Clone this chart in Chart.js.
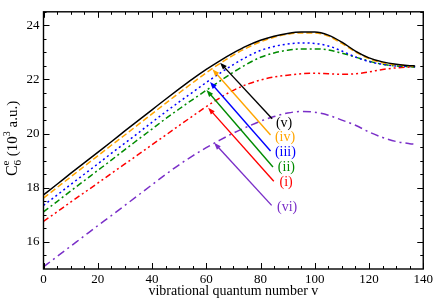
<!DOCTYPE html>
<html>
<head>
<meta charset="utf-8">
<script src="https://cdn.jsdelivr.net/npm/chart.js@4/dist/chart.umd.min.js"></script>
<style>
  html, body { margin: 0; padding: 0; background: #fff; }
  #wrap { width: 436px; height: 300px; }
</style>
</head>
<body>
<div id="wrap"><canvas id="c6Chart" width="436" height="300"></canvas></div>
<script>
const vLevels = [0, 5, 10, 15, 20, 25, 30, 35, 40, 45, 50, 55, 60, 65, 70, 75, 80, 85, 90, 95, 100, 105, 110, 115, 120, 125, 130, 135, 137];

// C6^e in 10^3 a.u.
const seriesV   = [17.74, 18.13, 18.53, 18.92, 19.31, 19.70, 20.10, 20.49, 20.88, 21.27, 21.65, 22.02, 22.37, 22.69, 22.98, 23.24, 23.45, 23.60, 23.70, 23.75, 23.75, 23.64, 23.38, 23.05, 22.80, 22.65, 22.56, 22.51, 22.50];
const seriesIV  = [17.62, 18.01, 18.40, 18.79, 19.18, 19.57, 19.95, 20.34, 20.73, 21.12, 21.50, 21.88, 22.25, 22.59, 22.90, 23.17, 23.39, 23.56, 23.67, 23.72, 23.72, 23.60, 23.33, 23.02, 22.77, 22.62, 22.54, 22.50, 22.49];
const seriesIII = [17.35, 17.73, 18.12, 18.50, 18.88, 19.27, 19.65, 20.03, 20.42, 20.80, 21.17, 21.53, 21.89, 22.23, 22.55, 22.84, 23.07, 23.22, 23.31, 23.35, 23.33, 23.24, 23.05, 22.83, 22.66, 22.56, 22.50, 22.48, 22.47];
const seriesII  = [17.11, 17.49, 17.88, 18.26, 18.64, 19.02, 19.41, 19.79, 20.17, 20.55, 20.91, 21.26, 21.60, 21.94, 22.27, 22.57, 22.82, 22.98, 23.08, 23.13, 23.13, 23.09, 22.97, 22.83, 22.68, 22.56, 22.50, 22.47, 22.46];
const seriesI   = [16.76, 17.11, 17.47, 17.82, 18.17, 18.53, 18.88, 19.23, 19.59, 19.94, 20.30, 20.65, 21.00, 21.32, 21.60, 21.82, 21.98, 22.09, 22.16, 22.21, 22.23, 22.21, 22.19, 22.21, 22.28, 22.37, 22.43, 22.46, 22.47];
const seriesVI  = [15.08, 15.46, 15.84, 16.22, 16.60, 16.97, 17.35, 17.73, 18.11, 18.49, 18.85, 19.18, 19.48, 19.76, 20.02, 20.25, 20.46, 20.63, 20.76, 20.82, 20.79, 20.68, 20.50, 20.31, 20.06, 19.86, 19.71, 19.63, 19.61];

const xTicks = [0, 20, 40, 60, 80, 100, 120, 140];
const xMinorTicks = [5, 10, 15, 25, 30, 35, 45, 50, 55, 65, 70, 75, 85, 90, 95, 105, 110, 115, 125, 130, 135];
const yTicks = [16, 18, 20, 22, 24];
const yMinorTicks = [15.5, 16.5, 17, 17.5, 18.5, 19, 19.5, 20.5, 21, 21.5, 22.5, 23, 23.5, 24.5];

const curveLabels = ['(v)', '(iv)', '(iii)', '(ii)', '(i)', '(vi)'];
// arrow tail / tip and label anchor, in data units (v, C6)
const arrowTails = [[84.3, 20.55], [83.7, 19.95], [83.7, 19.36], [84.6, 18.77], [84.9, 18.24], [84.1, 17.35]];
const arrowTips  = [[65.1, 22.62], [62.3, 22.38], [61.4, 21.91], [60.1, 21.61], [60.7, 20.96], [62.9, 19.66]];
const labelSpots = [[85.7, 20.38], [85.3, 19.88], [85.3, 19.30], [86.4, 18.77], [87.0, 18.20], [86.1, 17.29]];

const COLORS = ['#000000', '#ffa500', '#0000ff', '#008b00', '#ff0000', '#7a2fc8'];
const DASHES = [[], [6, 3], [2, 3], [6, 3, 2, 3], [6, 3, 2, 3, 2, 3], [8, 4, 2, 4]];
const FONT = "'Liberation Serif', 'Times New Roman', serif";

const allSeries = [seriesV, seriesIV, seriesIII, seriesII, seriesI, seriesVI];

function toPoints(values) {
  return values.map((y, i) => ({ x: vLevels[i], y: y }));
}

const datasets = allSeries.map((values, i) => ({
  label: curveLabels[i],
  data: toPoints(values),
  borderColor: COLORS[i],
  borderWidth: 1.5,
  borderDash: DASHES[i],
  pointRadius: 0,
  fill: false,
  cubicInterpolationMode: 'monotone'
}));

function drawArrow(ctx, x1, y1, x2, y2, color) {
  const ang = Math.atan2(y2 - y1, x2 - x1);
  const len = 7, half = 2.6;
  ctx.strokeStyle = color;
  ctx.fillStyle = color;
  ctx.lineWidth = 1.4;
  ctx.setLineDash([]);
  ctx.beginPath();
  ctx.moveTo(x1, y1);
  ctx.lineTo(x2 - Math.cos(ang) * 3, y2 - Math.sin(ang) * 3);
  ctx.stroke();
  ctx.beginPath();
  ctx.moveTo(x2, y2);
  ctx.lineTo(x2 - len * Math.cos(ang) + half * Math.sin(ang), y2 - len * Math.sin(ang) - half * Math.cos(ang));
  ctx.lineTo(x2 - len * Math.cos(ang) - half * Math.sin(ang), y2 - len * Math.sin(ang) + half * Math.cos(ang));
  ctx.closePath();
  ctx.fill();
}

const annotationsPlugin = {
  id: 'annotations',
  afterDatasetsDraw(chart) {
    const ctx = chart.ctx;
    const xs = chart.scales.x, ys = chart.scales.y;
    ctx.save();
    arrowTails.forEach((tail, i) => {
      const tip = arrowTips[i];
      drawArrow(ctx, xs.getPixelForValue(tail[0]), ys.getPixelForValue(tail[1]),
        xs.getPixelForValue(tip[0]), ys.getPixelForValue(tip[1]), COLORS[i]);
      ctx.fillStyle = COLORS[i];
      ctx.font = '14px ' + FONT;
      ctx.textAlign = 'left';
      ctx.textBaseline = 'middle';
      ctx.fillText(curveLabels[i], xs.getPixelForValue(labelSpots[i][0]), ys.getPixelForValue(labelSpots[i][1]));
    });
    ctx.restore();
  },
  afterDraw(chart) {
    const ctx = chart.ctx;
    const a = chart.chartArea;
    const xs = chart.scales.x, ys = chart.scales.y;
    ctx.save();
    ctx.strokeStyle = '#000';
    ctx.lineWidth = 1.4;
    ctx.setLineDash([]);
    ctx.strokeRect(a.left, a.top, a.right - a.left, a.bottom - a.top);
    ctx.lineWidth = 1;
    ctx.beginPath();
    const tickX = (vals, len) => vals.forEach(v => {
      const px = Math.round(xs.getPixelForValue(v)) + 0.5;
      ctx.moveTo(px, a.bottom); ctx.lineTo(px, a.bottom - len);
      ctx.moveTo(px, a.top); ctx.lineTo(px, a.top + len);
    });
    const tickY = (vals, len) => vals.forEach(v => {
      const py = Math.round(ys.getPixelForValue(v)) + 0.5;
      ctx.moveTo(a.left, py); ctx.lineTo(a.left + len, py);
      ctx.moveTo(a.right, py); ctx.lineTo(a.right - len, py);
    });
    tickX(xTicks, 6); tickX(xMinorTicks, 3);
    tickY(yTicks, 6); tickY(yMinorTicks, 3);
    ctx.stroke();

    // y axis title: C_6^e (10^3 a.u.)
    const parts = [
      { t: 'C', size: 16, dy: 0 },
      { t: '6', size: 11, dy: 4, sub: true },
      { t: 'e', size: 11, dy: -8, sup: true },
      { t: ' (10', size: 15, dy: 0 },
      { t: '3', size: 10, dy: -7 },
      { t: ' a.u.)', size: 15, dy: 0 }
    ];
    let total = 0;
    const widths = parts.map(p => {
      ctx.font = p.size + 'px ' + FONT;
      return ctx.measureText(p.t).width;
    });
    // sub and sup share horizontal space
    parts.forEach((p, i) => { if (!p.sup) total += widths[i]; });
    ctx.translate(17, (a.top + a.bottom) / 2 - 2);
    ctx.rotate(-Math.PI / 2);
    ctx.fillStyle = '#000';
    ctx.textBaseline = 'alphabetic';
    ctx.textAlign = 'left';
    let x = -total / 2, subStart = 0;
    parts.forEach((p, i) => {
      ctx.font = p.size + 'px ' + FONT;
      if (p.sup) {
        ctx.fillText(p.t, subStart, p.dy);
        return;
      }
      if (p.sub) subStart = x;
      ctx.fillText(p.t, x, p.dy);
      x += widths[i];
    });
    ctx.restore();
  }
};

new Chart(document.getElementById('c6Chart'), {
  type: 'line',
  data: { datasets: datasets },
  options: {
    responsive: false,
    animation: false,
    devicePixelRatio: 1,
    layout: { padding: { top: 2, right: 11, left: 0, bottom: 0 } },
    plugins: {
      legend: { display: false },
      tooltip: { enabled: false }
    },
    scales: {
      x: {
        type: 'linear',
        min: 0,
        max: 140,
        grid: { display: false, drawTicks: false },
        border: { display: false },
        afterBuildTicks: scale => { scale.ticks = xTicks.map(v => ({ value: v })); },
        afterFit: scale => { scale.height = 31; },
        ticks: {
          color: '#000',
          padding: 3,
          maxRotation: 0,
          font: { family: FONT, size: 13 }
        },
        title: {
          display: true,
          text: 'vibrational quantum number v',
          color: '#000',
          padding: 0,
          font: { family: FONT, size: 14 }
        }
      },
      y: {
        min: 15,
        max: 24.5,
        grid: { display: false, drawTicks: false },
        border: { display: false },
        afterBuildTicks: scale => { scale.ticks = yTicks.map(v => ({ value: v })); },
        afterFit: scale => { scale.width = 43.5; },
        ticks: {
          color: '#000',
          padding: 4,
          font: { family: FONT, size: 13 }
        }
      }
    }
  },
  plugins: [annotationsPlugin]
});
</script>
</body>
</html>
